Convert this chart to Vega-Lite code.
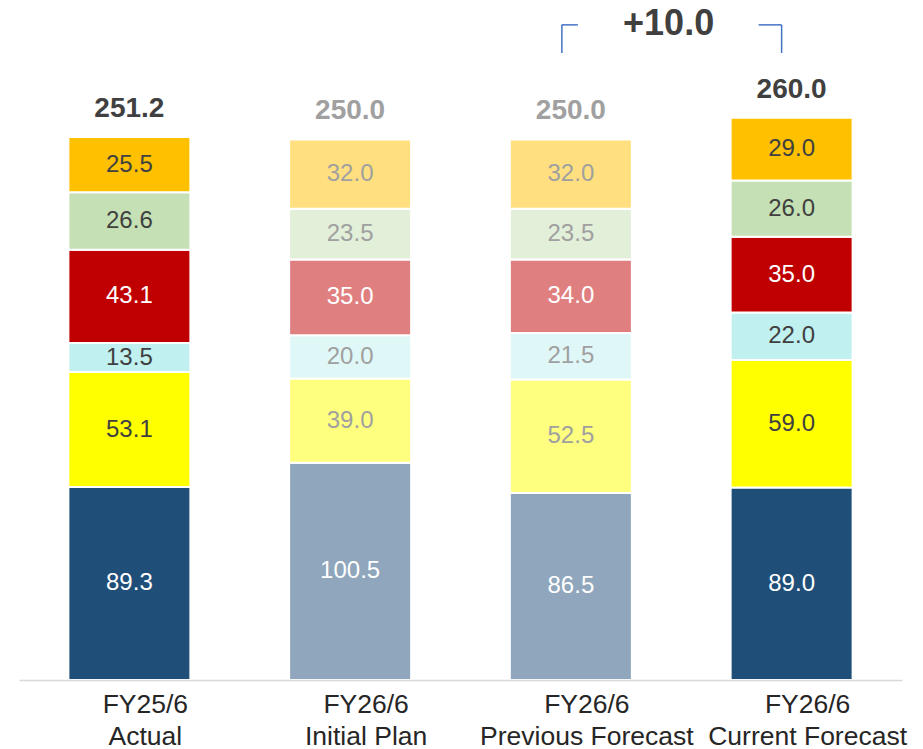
{
  "$schema": "https://vega.github.io/schema/vega-lite/v6.json",
  "width": 883,
  "height": 680,
  "autosize": {"type": "none"},
  "padding": {"left": 19, "top": 0, "right": 21, "bottom": 69},
  "background": "white",
  "config": {
    "view": {"stroke": null},
    "font": "Liberation Sans",
    "text": {"font": "Liberation Sans"}
  },
  "datasets": {
    "segments": [
      {"period": "FY25/6 Actual", "compare": "main", "segment": 1, "value": 89.3},
      {"period": "FY25/6 Actual", "compare": "main", "segment": 2, "value": 53.1},
      {"period": "FY25/6 Actual", "compare": "main", "segment": 3, "value": 13.5},
      {"period": "FY25/6 Actual", "compare": "main", "segment": 4, "value": 43.1},
      {"period": "FY25/6 Actual", "compare": "main", "segment": 5, "value": 26.6},
      {"period": "FY25/6 Actual", "compare": "main", "segment": 6, "value": 25.5},
      {"period": "FY26/6 Initial Plan", "compare": "reference", "segment": 1, "value": 100.5},
      {"period": "FY26/6 Initial Plan", "compare": "reference", "segment": 2, "value": 39.0},
      {"period": "FY26/6 Initial Plan", "compare": "reference", "segment": 3, "value": 20.0},
      {"period": "FY26/6 Initial Plan", "compare": "reference", "segment": 4, "value": 35.0},
      {"period": "FY26/6 Initial Plan", "compare": "reference", "segment": 5, "value": 23.5},
      {"period": "FY26/6 Initial Plan", "compare": "reference", "segment": 6, "value": 32.0},
      {"period": "FY26/6 Previous Forecast", "compare": "reference", "segment": 1, "value": 86.5},
      {"period": "FY26/6 Previous Forecast", "compare": "reference", "segment": 2, "value": 52.5},
      {"period": "FY26/6 Previous Forecast", "compare": "reference", "segment": 3, "value": 21.5},
      {"period": "FY26/6 Previous Forecast", "compare": "reference", "segment": 4, "value": 34.0},
      {"period": "FY26/6 Previous Forecast", "compare": "reference", "segment": 5, "value": 23.5},
      {"period": "FY26/6 Previous Forecast", "compare": "reference", "segment": 6, "value": 32.0},
      {"period": "FY26/6 Current Forecast", "compare": "main", "segment": 1, "value": 89.0},
      {"period": "FY26/6 Current Forecast", "compare": "main", "segment": 2, "value": 59.0},
      {"period": "FY26/6 Current Forecast", "compare": "main", "segment": 3, "value": 22.0},
      {"period": "FY26/6 Current Forecast", "compare": "main", "segment": 4, "value": 35.0},
      {"period": "FY26/6 Current Forecast", "compare": "main", "segment": 5, "value": 26.0},
      {"period": "FY26/6 Current Forecast", "compare": "main", "segment": 6, "value": 29.0}
    ],
    "totals": [
      {"period": "FY25/6 Actual", "compare": "main", "total": 251.2},
      {"period": "FY26/6 Initial Plan", "compare": "reference", "total": 250.0},
      {"period": "FY26/6 Previous Forecast", "compare": "reference", "total": 250.0},
      {"period": "FY26/6 Current Forecast", "compare": "main", "total": 260.0}
    ],
    "change": [
      {"from": "FY26/6 Previous Forecast", "to": "FY26/6 Current Forecast", "delta": 10.0}
    ]
  },
  "encoding": {
    "x": {
      "field": "period",
      "type": "nominal",
      "scale": {
        "domain": ["FY25/6 Actual", "FY26/6 Initial Plan", "FY26/6 Previous Forecast", "FY26/6 Current Forecast"],
        "paddingInner": 0.45,
        "paddingOuter": 0.225
      },
      "axis": {
        "title": null,
        "orient": "bottom",
        "ticks": false,
        "grid": false,
        "domainColor": "#D9D9D9",
        "domainWidth": 1.5,
        "labelAngle": 0,
        "labelFont": "Liberation Sans",
        "labelFontSize": 26.5,
        "labelColor": "#262626",
        "labelPadding": 11,
        "labelOffset": 16,
        "labelLineHeight": 32,
        "labelLimit": 400,
        "labelOverlap": false,
        "labelExpr": "[slice(datum.value, 0, indexof(datum.value, ' ')), slice(datum.value, indexof(datum.value, ' ') + 1)]",
        "zindex": 1
      }
    }
  },
  "layer": [
    {
      "data": {"name": "segments"},
      "transform": [
        {"stack": "value", "groupby": ["period"], "sort": [{"field": "segment", "order": "ascending"}], "as": ["y0", "y1"]},
        {"calculate": "(datum.y0 + datum.y1) / 2", "as": "ymid"}
      ],
      "layer": [
        {
          "mark": {"type": "bar", "size": 122, "stroke": "white", "strokeWidth": 2},
          "encoding": {
            "y": {"field": "y0", "type": "quantitative", "scale": {"domain": [0, 314.5], "nice": false, "zero": true}, "axis": null},
            "y2": {"field": "y1"},
            "color": {
              "field": "segment",
              "type": "ordinal",
              "scale": {"domain": [1, 2, 3, 4, 5, 6], "range": ["#1F4E79", "#FFFF00", "#C1F0F0", "#C00000", "#C5E0B4", "#FFC000"]},
              "legend": null
            },
            "fillOpacity": {
              "field": "compare",
              "type": "nominal",
              "scale": {"domain": ["main", "reference"], "range": [1, 0.5]},
              "legend": null
            }
          }
        },
        {
          "mark": {"type": "text", "fontSize": 24, "baseline": "middle", "align": "center"},
          "encoding": {
            "y": {"field": "ymid", "type": "quantitative"},
            "text": {"field": "value", "type": "quantitative", "format": ".1f"},
            "color": {
              "condition": [
                {"test": "datum.segment == 1 || datum.segment == 4", "value": "#FFFFFF"},
                {"test": "datum.compare == 'reference'", "value": "#A0A0A0"}
              ],
              "value": "#404040"
            }
          }
        }
      ]
    },
    {
      "data": {"name": "totals"},
      "mark": {"type": "text", "fontSize": 28, "fontWeight": "bold", "baseline": "middle", "align": "center", "dy": -28},
      "encoding": {
        "y": {"field": "total", "type": "quantitative"},
        "text": {"field": "total", "type": "quantitative", "format": ".1f"},
        "color": {
          "condition": {"test": "datum.compare == 'reference'", "value": "#A0A0A0"},
          "value": "#404040"
        }
      }
    },
    {
      "data": {"name": "change"},
      "layer": [
        {
          "mark": {"type": "rule", "color": "#4472C4", "strokeWidth": 1.5, "xOffset": -9},
          "encoding": {
            "x": {"field": "from", "type": "nominal"},
            "y": {"datum": 290},
            "y2": {"datum": 303}
          }
        },
        {
          "mark": {"type": "rule", "color": "#4472C4", "strokeWidth": 1.5, "xOffset": -9, "x2Offset": 7},
          "encoding": {
            "x": {"field": "from", "type": "nominal"},
            "x2": {"field": "from"},
            "y": {"datum": 303}
          }
        },
        {
          "mark": {"type": "rule", "color": "#4472C4", "strokeWidth": 1.5, "xOffset": -10},
          "encoding": {
            "x": {"field": "to", "type": "nominal"},
            "y": {"datum": 290},
            "y2": {"datum": 303}
          }
        },
        {
          "mark": {"type": "rule", "color": "#4472C4", "strokeWidth": 1.5, "xOffset": -33, "x2Offset": -10},
          "encoding": {
            "x": {"field": "to", "type": "nominal"},
            "x2": {"field": "to"},
            "y": {"datum": 303}
          }
        },
        {
          "mark": {"type": "text", "fontSize": 36, "fontWeight": "bold", "baseline": "middle", "align": "center", "color": "#404040", "xOffset": -123, "dy": 2},
          "encoding": {
            "x": {"field": "to", "type": "nominal"},
            "y": {"datum": 304.3},
            "text": {"field": "delta", "type": "quantitative", "format": "+.1f"}
          }
        }
      ]
    }
  ]
}
